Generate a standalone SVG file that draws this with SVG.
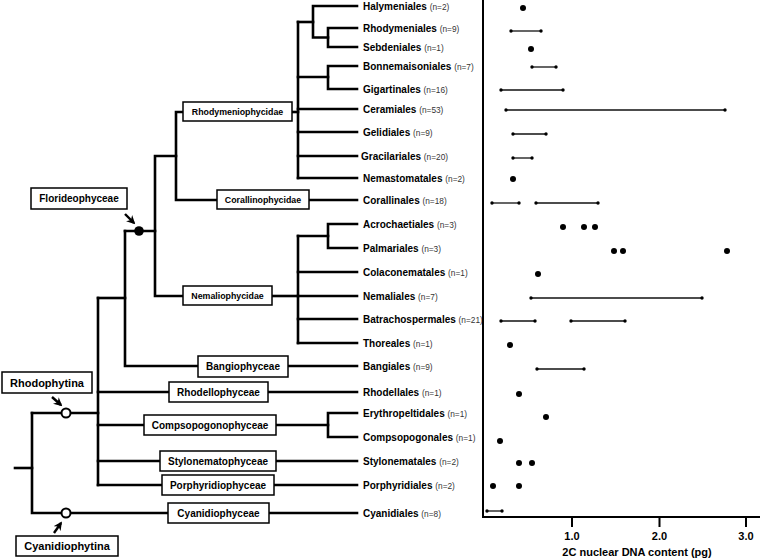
<svg xmlns="http://www.w3.org/2000/svg" width="760" height="560" viewBox="0 0 760 560">
<defs>
<style>
.c{fill:none;stroke:#000;stroke-width:2.6;stroke-linejoin:miter;stroke-linecap:square}
.box{fill:#fff;stroke:#000;stroke-width:1.5}
.bt{font-family:"Liberation Sans",Arial,sans-serif;font-weight:bold;text-anchor:middle;fill:#000}
.s9{font-size:8.8px}
.s10{font-size:10px}
.s11{font-size:11px}
.leaf{font-family:"Liberation Sans",Arial,sans-serif;font-weight:bold;font-size:10px;fill:#000}
.n{font-weight:normal;font-size:8.3px;fill:#333}
.ax{stroke:#000;stroke-width:2;fill:none}
.rg{stroke:#111;stroke-width:1.3}
.ep{fill:#000}
.dot{fill:#000}
.arr{stroke:#000;stroke-width:2.4;fill:none}
</style>
<marker id="ah" viewBox="0 0 10 10" refX="8" refY="5" markerWidth="3.6" markerHeight="3.6" orient="auto" markerUnits="strokeWidth">
<path d="M0,0 L10,5 L0,10 L3,5 z" fill="#000"/>
</marker>
</defs>
<rect width="760" height="560" fill="#fff"/>

<g id="connectors">
<path class="c" d="M357,6 H313 V37.5 H328"/>
<path class="c" d="M357,28 H328 V47 H357"/>
<path class="c" d="M298,22 H313"/>
<path class="c" d="M298,22 V178"/>
<path class="c" d="M298,77 H328"/>
<path class="c" d="M357,66 H328 V89 H357"/>
<path class="c" d="M298,109 H357"/>
<path class="c" d="M298,132 H357"/>
<path class="c" d="M298,156 H357"/>
<path class="c" d="M298,178 H357"/>
<path class="c" d="M292,112 H298"/>
<path class="c" d="M183,112 H176 V200 H217"/>
<path class="c" d="M309,200 H357"/>
<path class="c" d="M176,156 H155 V296 H183"/>
<path class="c" d="M272,296 H298"/>
<path class="c" d="M298,236 V343"/>
<path class="c" d="M298,236 H328"/>
<path class="c" d="M357,224 H328 V248 H357"/>
<path class="c" d="M298,272 H357"/>
<path class="c" d="M298,296 H357"/>
<path class="c" d="M298,319 H357"/>
<path class="c" d="M298,343 H357"/>
<path class="c" d="M125,231 H155"/>
<path class="c" d="M125,231 V366 H198"/>
<path class="c" d="M288,366 H357"/>
<path class="c" d="M98,298 H125"/>
<path class="c" d="M98,298 V485"/>
<path class="c" d="M98,392 H169"/>
<path class="c" d="M268,392 H357"/>
<path class="c" d="M98,425 H144"/>
<path class="c" d="M276,425 H328"/>
<path class="c" d="M357,413 H328 V437 H357"/>
<path class="c" d="M98,461 H160"/>
<path class="c" d="M276,461 H357"/>
<path class="c" d="M98,485 H162"/>
<path class="c" d="M274,485 H357"/>
<path class="c" d="M32,413 H98"/>
<path class="c" d="M32,413 V513 H168"/>
<path class="c" d="M269,513 H357"/>
<path class="c" d="M15,468 H32"/>
<line class="arr" x1="125" y1="214" x2="134" y2="223" marker-end="url(#ah)"/>
<line class="arr" x1="52" y1="397" x2="61" y2="405" marker-end="url(#ah)"/>
<line class="arr" x1="54" y1="533" x2="61" y2="523" marker-end="url(#ah)"/>
</g>

<g id="node-florideophyceae-point"><circle cx="139" cy="231" r="4.8" fill="#000"/></g>
<g id="node-rhodophytina-point"><circle cx="66" cy="413" r="4.5" fill="#fff" stroke="#000" stroke-width="2"/></g>
<g id="node-cyanidiophytina-point"><circle cx="66" cy="513" r="4.5" fill="#fff" stroke="#000" stroke-width="2"/></g>

<g id="node-rhodymeniophycidae"><rect class="box" x="183" y="102" width="109" height="19"/><text class="bt s9" x="237.5" y="115">Rhodymeniophycidae</text></g>
<g id="node-corallinophycidae"><rect class="box" x="217" y="190" width="92" height="19"/><text class="bt s9" x="263" y="203">Corallinophycidae</text></g>
<g id="node-nemaliophycidae"><rect class="box" x="183" y="286" width="89" height="19"/><text class="bt s9" x="227.5" y="299">Nemaliophycidae</text></g>
<g id="node-florideophyceae"><rect class="box" x="31" y="188" width="96" height="21"/><text class="bt s10" x="79" y="202">Florideophyceae</text></g>
<g id="node-bangiophyceae"><rect class="box" x="198" y="356" width="90" height="21"/><text class="bt s10" x="243" y="370">Bangiophyceae</text></g>
<g id="node-rhodellophyceae"><rect class="box" x="169" y="382" width="99" height="20"/><text class="bt s10" x="218.5" y="395.5">Rhodellophyceae</text></g>
<g id="node-compsopogonophyceae"><rect class="box" x="144" y="415" width="132" height="20"/><text class="bt s10" x="210" y="428.5">Compsopogonophyceae</text></g>
<g id="node-stylonematophyceae"><rect class="box" x="160" y="451" width="116" height="20"/><text class="bt s10" x="218" y="464.5">Stylonematophyceae</text></g>
<g id="node-porphyridiophyceae"><rect class="box" x="162" y="475" width="112" height="20"/><text class="bt s10" x="218" y="488.5">Porphyridiophyceae</text></g>
<g id="node-cyanidiophyceae"><rect class="box" x="168" y="503" width="101" height="20"/><text class="bt s10" x="218.5" y="516.5">Cyanidiophyceae</text></g>
<g id="node-rhodophytina"><rect class="box" x="2" y="372" width="90" height="21"/><text class="bt s11" x="47" y="386.5">Rhodophytina</text></g>
<g id="node-cyanidiophytina"><rect class="box" x="16" y="536" width="102" height="20"/><text class="bt s11" x="67" y="550">Cyanidiophytina</text></g>

<g id="leaf-halymeniales"><text class="leaf" x="363" y="9.5">Halymeniales <tspan class="n">(n=2)</tspan></text></g>
<g id="leaf-rhodymeniales"><text class="leaf" x="363" y="31.5">Rhodymeniales <tspan class="n">(n=9)</tspan></text></g>
<g id="leaf-sebdeniales"><text class="leaf" x="363" y="50.5">Sebdeniales <tspan class="n">(n=1)</tspan></text></g>
<g id="leaf-bonnemaisoniales"><text class="leaf" x="363" y="69.5">Bonnemaisoniales <tspan class="n">(n=7)</tspan></text></g>
<g id="leaf-gigartinales"><text class="leaf" x="363" y="92.5">Gigartinales <tspan class="n">(n=16)</tspan></text></g>
<g id="leaf-ceramiales"><text class="leaf" x="363" y="112.5">Ceramiales <tspan class="n">(n=53)</tspan></text></g>
<g id="leaf-gelidiales"><text class="leaf" x="363" y="135.5">Gelidiales <tspan class="n">(n=9)</tspan></text></g>
<g id="leaf-gracilariales"><text class="leaf" x="361" y="159.5">Gracilariales <tspan class="n">(n=20)</tspan></text></g>
<g id="leaf-nemastomatales"><text class="leaf" x="363" y="181.5">Nemastomatales <tspan class="n">(n=2)</tspan></text></g>
<g id="leaf-corallinales"><text class="leaf" x="363" y="203.5">Corallinales <tspan class="n">(n=18)</tspan></text></g>
<g id="leaf-acrochaetiales"><text class="leaf" x="363" y="227.5">Acrochaetiales <tspan class="n">(n=3)</tspan></text></g>
<g id="leaf-palmariales"><text class="leaf" x="363" y="251.5">Palmariales <tspan class="n">(n=3)</tspan></text></g>
<g id="leaf-colaconematales"><text class="leaf" x="363" y="275.5">Colaconematales <tspan class="n">(n=1)</tspan></text></g>
<g id="leaf-nemaliales"><text class="leaf" x="363" y="299.5">Nemaliales <tspan class="n">(n=7)</tspan></text></g>
<g id="leaf-batrachospermales"><text class="leaf" x="363" y="322.5">Batrachospermales <tspan class="n">(n=21)</tspan></text></g>
<g id="leaf-thoreales"><text class="leaf" x="363" y="346.5">Thoreales <tspan class="n">(n=1)</tspan></text></g>
<g id="leaf-bangiales"><text class="leaf" x="363" y="369.5">Bangiales <tspan class="n">(n=9)</tspan></text></g>
<g id="leaf-rhodellales"><text class="leaf" x="363" y="395.5">Rhodellales <tspan class="n">(n=1)</tspan></text></g>
<g id="leaf-erythropeltidales"><text class="leaf" x="363" y="416.5">Erythropeltidales <tspan class="n">(n=1)</tspan></text></g>
<g id="leaf-compsopogonales"><text class="leaf" x="363" y="440.5">Compsopogonales <tspan class="n">(n=1)</tspan></text></g>
<g id="leaf-stylonematales"><text class="leaf" x="363" y="464.5">Stylonematales <tspan class="n">(n=2)</tspan></text></g>
<g id="leaf-porphyridiales"><text class="leaf" x="363" y="488.5">Porphyridiales <tspan class="n">(n=2)</tspan></text></g>
<g id="leaf-cyanidiales"><text class="leaf" x="363" y="516.5">Cyanidiales <tspan class="n">(n=8)</tspan></text></g>

<g id="plot">
<path class="ax" d="M483,0 V517 H760"/>
<path class="ax" d="M572,517 V527 M659.5,517 V527 M746,517 V527"/>
<text class="bt s11" x="572" y="540">1.0</text>
<text class="bt s11" x="659.5" y="540">2.0</text>
<text class="bt s11" x="746" y="540">3.0</text>
<text class="bt s11" x="637" y="556">2C nuclear DNA content (pg)</text>

<g id="data">
<circle class="dot" cx="523" cy="8" r="3"/>
<line class="rg" x1="511" y1="31" x2="541" y2="31"/><circle class="ep" cx="511" cy="31" r="1.7"/><circle class="ep" cx="541" cy="31" r="1.7"/>
<circle class="dot" cx="531" cy="49" r="3"/>
<line class="rg" x1="532" y1="67" x2="556" y2="67"/><circle class="ep" cx="532" cy="67" r="1.7"/><circle class="ep" cx="556" cy="67" r="1.7"/>
<line class="rg" x1="501" y1="90" x2="563" y2="90"/><circle class="ep" cx="501" cy="90" r="1.7"/><circle class="ep" cx="563" cy="90" r="1.7"/>
<line class="rg" x1="506" y1="110" x2="725" y2="110"/><circle class="ep" cx="506" cy="110" r="1.7"/><circle class="ep" cx="725" cy="110" r="1.7"/>
<line class="rg" x1="513" y1="134" x2="546" y2="134"/><circle class="ep" cx="513" cy="134" r="1.7"/><circle class="ep" cx="546" cy="134" r="1.7"/>
<line class="rg" x1="513" y1="158" x2="532" y2="158"/><circle class="ep" cx="513" cy="158" r="1.7"/><circle class="ep" cx="532" cy="158" r="1.7"/>
<circle class="dot" cx="513" cy="179" r="3"/>
<line class="rg" x1="492" y1="203" x2="519" y2="203"/><circle class="ep" cx="492" cy="203" r="1.7"/><circle class="ep" cx="519" cy="203" r="1.7"/>
<line class="rg" x1="536" y1="203" x2="598" y2="203"/><circle class="ep" cx="536" cy="203" r="1.7"/><circle class="ep" cx="598" cy="203" r="1.7"/>
<circle class="dot" cx="563" cy="227" r="3"/><circle class="dot" cx="584" cy="227" r="3"/><circle class="dot" cx="595" cy="227" r="3"/>
<circle class="dot" cx="614" cy="251" r="3"/><circle class="dot" cx="623" cy="251" r="3"/><circle class="dot" cx="727" cy="251" r="3"/>
<circle class="dot" cx="538" cy="274" r="3"/>
<line class="rg" x1="531" y1="298" x2="702" y2="298"/><circle class="ep" cx="531" cy="298" r="1.7"/><circle class="ep" cx="702" cy="298" r="1.7"/>
<line class="rg" x1="501" y1="321" x2="535" y2="321"/><circle class="ep" cx="501" cy="321" r="1.7"/><circle class="ep" cx="535" cy="321" r="1.7"/>
<line class="rg" x1="571" y1="321" x2="625" y2="321"/><circle class="ep" cx="571" cy="321" r="1.7"/><circle class="ep" cx="625" cy="321" r="1.7"/>
<circle class="dot" cx="510" cy="345" r="3"/>
<line class="rg" x1="537" y1="369" x2="584" y2="369"/><circle class="ep" cx="537" cy="369" r="1.7"/><circle class="ep" cx="584" cy="369" r="1.7"/>
<circle class="dot" cx="519" cy="394" r="3"/>
<circle class="dot" cx="546" cy="417" r="3"/>
<circle class="dot" cx="500" cy="441" r="3"/>
<circle class="dot" cx="519" cy="463" r="3"/><circle class="dot" cx="532" cy="463" r="3"/>
<circle class="dot" cx="493" cy="486" r="3"/><circle class="dot" cx="519" cy="486" r="3"/>
<line class="rg" x1="487" y1="511" x2="502" y2="511"/><circle class="ep" cx="487" cy="511" r="1.7"/><circle class="ep" cx="502" cy="511" r="1.7"/>
</g>
</g>
</svg>
